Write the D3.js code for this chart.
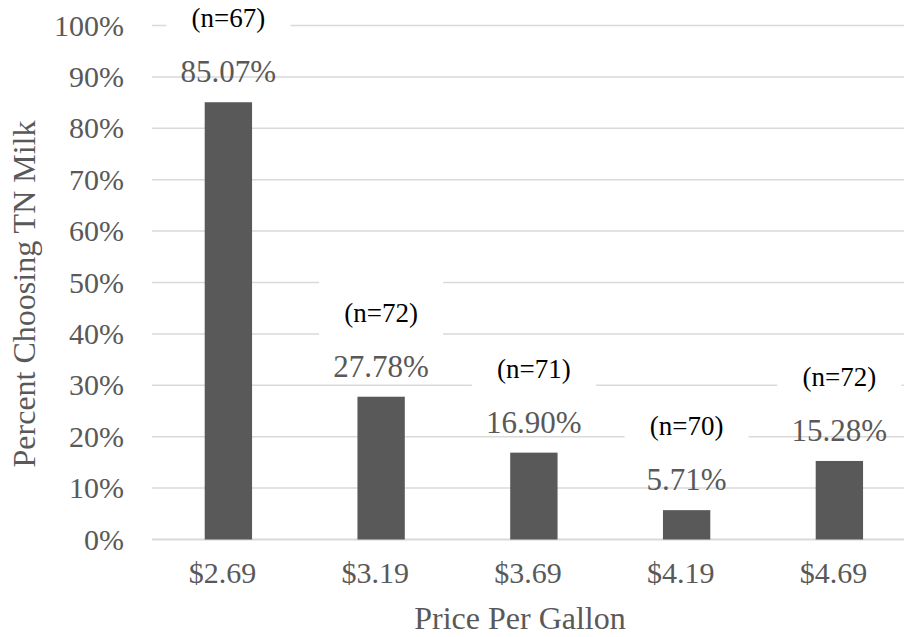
<!DOCTYPE html>
<html>
<head>
<meta charset="utf-8">
<script src="https://cdn.jsdelivr.net/npm/d3@7"></script>
<style>
  body { margin: 0; background: #fff; }
</style>
</head>
<body>
<svg id="chart" width="904" height="637" font-family="'Liberation Serif', 'Times New Roman', Times, 'DejaVu Serif', serif"></svg>
<script>
// chart data
var prices = ["$2.69", "$3.19", "$3.69", "$4.19", "$4.69"];
var percentChoosing = [85.07, 27.78, 16.90, 5.71, 15.28];
var sampleSizes = [67, 72, 71, 70, 72];
var yTicks = [0, 10, 20, 30, 40, 50, 60, 70, 80, 90, 100];

var svg = d3.select("#chart");
var margin = {left: 152, top: 25.5, bottom: 97.5};
var plotRight = 915.75; // plot runs past the right edge of the picture
var height = 637 - margin.top - margin.bottom;

var x = d3.scaleBand()
    .domain(prices)
    .range([margin.left, plotRight])
    .paddingInner(0.69)
    .paddingOuter(0.345);

var y = d3.scaleLinear()
    .domain([0, 100])
    .range([margin.top + height, margin.top]);

// gridlines
svg.append("g")
    .selectAll("line")
    .data(yTicks)
    .join("line")
    .attr("x1", margin.left)
    .attr("x2", plotRight)
    .attr("y1", function (d) { return y(d); })
    .attr("y2", function (d) { return y(d); })
    .attr("stroke", "#d9d9d9")
    .attr("stroke-width", function (d) { return d === 0 ? 2 : 1.5; });

// y tick labels
svg.append("g")
    .selectAll("text")
    .data(yTicks)
    .join("text")
    .attr("x", 124)
    .attr("y", function (d) { return y(d) + 10; })
    .attr("text-anchor", "end")
    .attr("font-size", 30)
    .attr("fill", "#595959")
    .text(function (d) { return d + "%"; });

// x tick labels
svg.append("g")
    .selectAll("text")
    .data(prices)
    .join("text")
    .attr("x", function (d) { return x(d) + x.bandwidth() / 2 - 6; })
    .attr("y", y(0) + 43.5)
    .attr("text-anchor", "middle")
    .attr("font-size", 30)
    .attr("fill", "#595959")
    .text(function (d) { return d; });

// bars
var rows = prices.map(function (p, i) {
    return {price: p, value: percentChoosing[i], n: sampleSizes[i]};
});

svg.append("g")
    .selectAll("rect")
    .data(rows)
    .join("rect")
    .attr("x", function (d) { return x(d.price); })
    .attr("y", function (d) { return y(d.value); })
    .attr("width", x.bandwidth())
    .attr("height", function (d) { return y(0) - y(d.value); })
    .attr("fill", "#595959");

// value labels
var valueGap = 20;
svg.append("g")
    .selectAll("text")
    .data(rows)
    .join("text")
    .attr("x", function (d) { return x(d.price) + x.bandwidth() / 2; })
    .attr("y", function (d) { return y(d.value) - valueGap; })
    .attr("text-anchor", "middle")
    .attr("font-size", 31)
    .attr("fill", "#595959")
    .text(function (d) { return d.value.toFixed(2) + "%"; });

// sample size labels, each on a white box
var nGap = 55;
var nLabels = svg.append("g")
    .selectAll("g")
    .data(rows)
    .join("g")
    .attr("transform", function (d) {
        var cx = x(d.price) + x.bandwidth() / 2;
        var base = y(d.value) - valueGap - nGap;
        return "translate(" + cx + "," + base + ")";
    });

nLabels.append("rect")
    .attr("x", -62)
    .attr("y", -9 - 32.5)
    .attr("width", 124)
    .attr("height", 65)
    .attr("fill", "#fff");

nLabels.append("text")
    .attr("text-anchor", "middle")
    .attr("font-size", 27)
    .attr("fill", "#000")
    .text(function (d) { return "(n=" + d.n + ")"; });

// axis titles
svg.append("text")
    .attr("x", 520)
    .attr("y", 629)
    .attr("text-anchor", "middle")
    .attr("font-size", 32)
    .attr("fill", "#595959")
    .text("Price Per Gallon");

svg.append("text")
    .attr("transform", "translate(35,294) rotate(-90)")
    .attr("text-anchor", "middle")
    .attr("font-size", 32)
    .attr("fill", "#595959")
    .text("Percent Choosing TN Milk");
</script>
</body>
</html>
